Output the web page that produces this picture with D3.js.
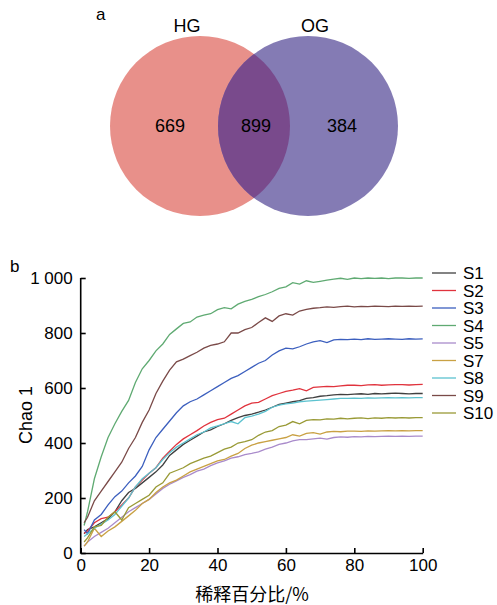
<!DOCTYPE html>
<html><head><meta charset="utf-8">
<script src="https://cdn.jsdelivr.net/npm/d3@7/dist/d3.min.js"></script>
<style>
body{margin:0;background:#fff;}
svg text{font-family:"Liberation Sans",Arial,sans-serif;fill:#000;}
</style></head>
<body><svg id="c" width="497" height="605"></svg>
<script>
// ---- Panel a: Venn data ----
const vennSets = ["HG", "OG"];
const vennCounts = [669, 899, 384]; // HG only, shared, OG only
const vennColors = ["#E8908A", "#847BB4"];
const vennOverlapColor = "#794A8C";

// ---- Panel b: rarefaction data ----
const xPct = [1,2,4,6,8,10,12,14,16,18,20,22,24,26,28,30,32,34,36,38,40,42,44,46,48,50,52,54,56,58,60,62,64,66,68,70,72,74,76,78,80,82,84,86,88,90,92,94,96,98,100];
const seriesNames = ["S1","S2","S3","S4","S5","S7","S8","S9","S10"];
const seriesColors = ["#404040","#E0333D","#3C5FBE","#5FAA72","#A98BCB","#C9A144","#5CC2CF","#7A4A48","#999A36"];
const S1 = [70,85,95,110,125,150,190,220,235,255,275,295,320,355,375,395,410,425,440,448,460,470,482,492,500,505,512,520,530,540,545,550,554,562,565,570,572,575,577,576,578,579,577,580,579,580,581,580,579,580,580];
const S2 = [72,80,110,125,130,150,175,200,240,265,290,310,345,370,395,415,430,445,462,475,485,490,505,520,535,545,548,560,572,580,588,592,598,590,602,604,606,605,608,610,610,609,611,612,610,611,612,612,611,612,613];
const S3 = [85,70,120,140,175,205,225,255,280,315,375,420,450,480,510,535,550,560,575,590,605,620,635,645,660,675,690,700,720,735,745,742,750,760,768,772,765,775,777,776,778,776,779,777,778,779,778,777,779,778,779];
const S4 = [100,150,270,350,420,470,515,555,620,670,700,735,760,795,815,835,840,858,865,870,885,892,888,905,915,922,932,940,950,962,968,983,978,990,984,988,992,996,999,995,1000,998,1000,999,1000,998,1000,1000,999,1000,1000];
const S5 = [25,40,60,75,90,110,130,150,165,180,195,215,235,250,262,275,285,298,305,318,328,335,345,350,358,362,368,378,385,395,400,408,412,412,415,418,414,420,422,421,423,422,424,423,424,425,424,425,424,425,425];
const S7 = [25,40,90,60,80,95,115,135,155,180,195,220,240,255,265,280,295,305,315,325,335,340,352,362,380,392,400,405,410,415,420,430,425,435,438,432,440,442,441,443,443,442,444,443,444,445,444,445,444,445,445];
const S8 = [60,70,90,105,120,140,170,200,240,270,290,310,340,365,385,400,415,430,440,455,462,470,478,470,492,498,505,515,530,538,542,545,550,552,554,556,558,560,562,562,563,562,564,563,564,565,564,565,564,565,565];
const S9 = [110,130,190,225,260,295,330,380,420,475,520,580,625,665,695,705,718,730,745,755,760,768,800,800,812,820,838,855,842,862,870,865,880,886,890,892,895,893,896,898,895,897,896,898,897,896,898,897,898,897,898];
const S10 = [40,55,95,100,130,150,120,165,180,195,210,240,255,290,300,310,325,335,345,352,365,378,385,400,405,412,428,440,445,460,465,478,470,482,485,484,488,487,490,488,490,491,489,491,490,492,491,492,491,492,492];
const seriesValues = [S1,S2,S3,S4,S5,S7,S8,S9,S10];
const xTicks = [0,20,40,60,80,100];
const yTicks = [0,200,400,600,800,1000];
const yTickLabels = ["0","200","400","600","800","1 000"];

const svg = d3.select("#c");

// ---- Venn ----
const vr = 90, vcy = 126;
const vcx = [200, 308];
const defs = svg.append("defs");
defs.append("clipPath").attr("id","clipHG").append("circle").attr("cx",vcx[0]).attr("cy",vcy).attr("r",vr);
svg.selectAll("circle.venn").data(vennSets).join("circle").attr("class","venn")
  .attr("cx",(d,i)=>vcx[i]).attr("cy",vcy).attr("r",vr).attr("fill",(d,i)=>vennColors[i]);
svg.append("circle").attr("cx",vcx[1]).attr("cy",vcy).attr("r",vr).attr("clip-path","url(#clipHG)").attr("fill",vennOverlapColor);
svg.selectAll("text.vset").data(vennSets).join("text").attr("class","vset")
  .attr("x",(d,i)=>[187,315][i]).attr("y",32).attr("text-anchor","middle").style("font-size","18px").text(d=>d);
svg.selectAll("text.vnum").data(vennCounts).join("text").attr("class","vnum")
  .attr("x",(d,i)=>[170,256,342][i]).attr("y",132).attr("text-anchor","middle").style("font-size","18px").text(d=>d);
svg.append("text").attr("x",96).attr("y",20).style("font-size","17px").text("a");
svg.append("text").attr("x",10).attr("y",272).style("font-size","17px").text("b");

// ---- Rarefaction ----
const x = d3.scaleLinear().domain([0,100]).range([80.7,422.7]);
const y = d3.scaleLinear().domain([0,1000]).range([553,278]);

const gx = svg.append("g").attr("transform","translate(0,553)")
  .call(d3.axisBottom(x).tickValues(xTicks).tickSizeInner(-5).tickSizeOuter(0).tickPadding(6));
const gy = svg.append("g").attr("transform","translate(80.7,0)")
  .call(d3.axisLeft(y).tickValues(yTicks).tickFormat((d,i)=>yTickLabels[i]).tickSizeInner(-5).tickSizeOuter(0).tickPadding(8));
[gx,gy].forEach(g=>{
  g.selectAll("path.domain").attr("stroke","#000").attr("stroke-width",1.6);
  g.selectAll(".tick line").attr("stroke","#000").attr("stroke-width",1.6);
  g.selectAll(".tick text").style("font-family","'Liberation Sans',Arial,sans-serif").style("font-size","17px").attr("fill","#000");
});
gy.select("path.domain").attr("d","M0,"+(553+0.8)+"V278");

const line = d3.line().x((d,i)=>x(xPct[i])).y(d=>y(d));
svg.append("g").selectAll("path").data(seriesValues).join("path")
  .attr("d",d=>line(d)).attr("fill","none")
  .attr("stroke",(d,i)=>seriesColors[i]).attr("stroke-width",1.3);

svg.append("text").attr("transform","translate(32,415) rotate(-90)").attr("text-anchor","middle")
  .style("font-size","18px").text("Chao 1");
svg.append("text").attr("x",252).attr("y",601).attr("text-anchor","middle")
  .style("font-size","18px").style("font-family","'Noto Sans CJK SC','Liberation Sans',sans-serif").text("稀释百分比/%");

// legend
const lg = svg.append("g").selectAll("g").data(seriesNames).join("g")
  .attr("transform",(d,i)=>`translate(0,${273 + i*17.5})`);
lg.append("line").attr("x1",432).attr("x2",456).attr("y1",0).attr("y2",0)
  .attr("stroke",(d,i)=>seriesColors[i]).attr("stroke-width",1.3);
lg.append("text").attr("x",463).attr("y",6).style("font-size","17px").text(d=>d);
</script></body></html>
